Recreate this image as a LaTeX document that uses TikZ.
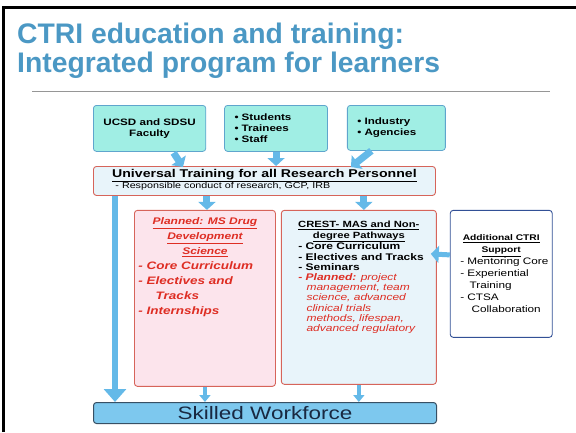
\documentclass[tikz,border=0pt]{standalone}
\usepackage{fontspec}
\setmainfont{Liberation Sans}
\newfontfamily\widesans[FakeStretch=1.25]{Liberation Sans}
\usepackage{tikz}
\usetikzlibrary{arrows.meta,calc,positioning}
\setlength{\parindent}{0pt}

\definecolor{titleblue}{RGB}{75,152,196}
\definecolor{rulegray}{RGB}{150,150,150}
\definecolor{aqua}{RGB}{160,238,228}
\definecolor{aquaedge}{RGB}{95,165,205}
\definecolor{arrowblue}{RGB}{100,185,232}
\definecolor{salmon}{RGB}{214,100,90}
\definecolor{palepink}{RGB}{252,228,236}
\definecolor{paleblue}{RGB}{232,244,250}
\definecolor{planred}{RGB}{222,45,35}
\definecolor{navyedge}{RGB}{50,80,150}
\definecolor{skyfill}{RGB}{125,200,238}
\definecolor{slateedge}{RGB}{55,80,100}
\definecolor{darktext}{RGB}{25,40,65}

\newcommand{\setfs}[2]{\fontsize{#1}{#2}\selectfont}

\begin{document}
\begin{tikzpicture}[x=1pt,y=-1pt]
	\tikzstyle{source} = [draw=aquaedge, fill=aqua, rounded corners=3pt, line width=0.8pt, minimum height=46pt, inner xsep=10pt, anchor=north west, font=\widesans\bfseries\setfs{9.3}{11}]
	\tikzstyle{panel} = [draw=salmon, rounded corners=3pt, line width=0.9pt, anchor=north west, inner sep=0pt]
	\tikzstyle{flow} = [draw=arrowblue, line width=7pt, -{Triangle[width=17pt,length=8pt]}]
	\tikzstyle{thinflow} = [draw=arrowblue, line width=4pt, -{Triangle[width=11pt,length=7pt]}]
	\tikzstyle{bigflow} = [draw=arrowblue, line width=6pt, -{Triangle[width=22pt,length=13pt]}]
	
	\useasboundingbox (0,0) rectangle (576,432);
	\draw [line width=3pt] (3.5,432) -- (3.5,7.5) -- (576,7.5);
	
	\node [anchor=north west, align=left, inner sep=0pt, text=titleblue, font=\bfseries\setfs{28.3}{29}] (title) at (17,22.7) {CTRI education and training:\\Integrated program for learners};
	\draw [rulegray, line width=1pt] (32,91) -- (550,91);
	
	\node [source, minimum width=104pt, align=center] (faculty) at (93,105) {UCSD and SDSU\\Faculty};
	
	\node [source, text width=83pt, align=left, right=18pt of faculty.north east, anchor=north west] (learners) {\textbullet{} Students\\\textbullet{} Trainees\\\textbullet{} Staff};
	
	\node [source, text width=78pt, minimum height=45pt, align=left, right=19pt of learners.north east, anchor=north west] (industry) {\textbullet{} Industry\\\textbullet{} Agencies};
	
	\node [panel, fill=paleblue, inner xsep=4pt, inner ysep=3pt, font=\widesans\setfs{8.6}{11}] (training) at (93,166) {\parbox[t][23pt][t]{334pt}{%
		\centerline{\bfseries\setfs{11.3}{11}\underline{Universal Training for all Research Personnel}}
		\hspace*{18pt}- Responsible conduct of research, GCP, IRB}};
	
	\node [panel, fill=palepink, inner xsep=4pt, inner ysep=7pt, below=14pt of training.south west, xshift=41pt, anchor=north west, text=planred, font=\widesans\bfseries\itshape\setfs{10.8}{15}] (drug) {\parbox[t][162pt][t]{133pt}{%
		\centerline{\setfs{9.6}{15}\underline{Planned: MS Drug}}
		\centerline{\setfs{9.6}{15}\underline{Development}}
		\centerline{\setfs{9.6}{15}\underline{Science}}
		- Core Curriculum\\
		- Electives and\\
		\hspace*{1.6em}Tracks\\
		- Internships}};
	
	\node [panel, fill=paleblue, inner xsep=4pt, inner ysep=4pt, right=5pt of drug.north east, anchor=north west, font=\widesans\bfseries\setfs{9.6}{10.2}] (crest) {\parbox[t][166pt][t]{147pt}{%
		\leftskip=13pt
		\vspace*{7pt}
		\centerline{\setfs{9}{10.2}\underline{CREST- MAS and Non-}}
		\centerline{\setfs{9}{10.2}\underline{degree Pathways}}
		- Core Curriculum\\
		- Electives and Tracks\\
		- Seminars\\
		\color{planred}- \textit{Planned:} {\mdseries\itshape project\\
		\hspace*{0.85em}management, team\\
		\hspace*{0.85em}science, advanced\\
		\hspace*{0.85em}clinical trials\\
		\hspace*{0.85em}methods, lifespan,\\
		\hspace*{0.85em}advanced regulatory}}};
	
	\node [panel, draw=navyedge, fill=white, right=13pt of crest.north east, anchor=north west, minimum width=102pt, minimum height=127pt, font=\widesans\setfs{9.4}{12}] (support) {\parbox{96pt}{%
		\centerline{\bfseries\setfs{8.2}{12}\underline{Additional CTRI}}
		\centerline{\bfseries\setfs{8.2}{12}\underline{Support}}
		\leftskip=7pt
		- Mentoring Core\\
		- Experiential\\
		\hspace*{1em}Training\\
		- CTSA\\
		\hspace*{1.2em}Collaboration}};
	
	\node [draw=slateedge, fill=skyfill, rounded corners=3pt, line width=1pt, minimum width=343pt, minimum height=21pt, inner sep=0pt, anchor=north west, text=darktext, font=\widesans\setfs{18}{18}] (workforce) at (93,402) {Skilled Workforce};
	
	% block arrows
	\coordinate (leftrail) at (115,0);
	\draw [bigflow] (training.south -| leftrail) -- (workforce.north -| leftrail);
	\draw [flow] ($(faculty.south)+(24,1)$) -- ($(training.north west)+(90,1)$);
	\draw [flow] (learners.south) -- (learners.south |- training.north);
	\draw [flow] ($(industry.south)+(-25,0)$) -- ($(training.north east)+(-85,1)$);
	\draw [flow] ($(drug.north)+(2,-14)$) -- ($(drug.north)+(2,0)$);
	\draw [flow] ($(crest.north)+(5,-14)$) -- ($(crest.north)+(5,0)$);
	\draw [thinflow] (drug.south) -- (drug.south |- workforce.north);
	\draw [thinflow] (crest.south) -- (crest.south |- workforce.north);
	\draw [flow, line width=5pt] ($(support.north west)+(0,45)$) -- ($(crest.north east)+(-6,44)$);
	
\end{tikzpicture}
\end{document}
